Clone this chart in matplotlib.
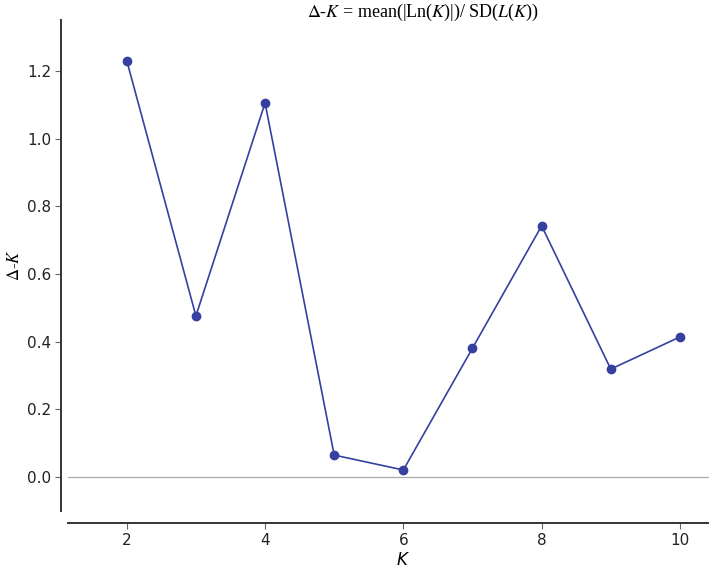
import matplotlib
matplotlib.use("Agg")
import matplotlib.pyplot as plt

k_values = [2, 3, 4, 5, 6, 7, 8, 9, 10]
delta_k = [1.23, 0.476, 1.105, 0.065, 0.021, 0.381, 0.742, 0.319, 0.414]
x_ticks = [2, 4, 6, 8, 10]
y_ticks = [0.0, 0.2, 0.4, 0.6, 0.8, 1.0, 1.2]

line_color = "#3540a0"
spine_color = "#333333"

fig = plt.figure(figsize=(7.09, 5.68), dpi=100)
ax = fig.add_axes([0.0959, 0.1004, 0.946, 0.8644])

ax.axhline(0, color="#aaaaaa", linewidth=0.9, zorder=1)
ax.plot(k_values, delta_k, color=line_color, linewidth=1.2,
        marker="o", markersize=6, zorder=3)

ax.set_xlim(1.15, 10.85)
ax.set_ylim(-0.1, 1.35)
ax.set_xticks(x_ticks)
ax.set_yticks(y_ticks)
ax.set_yticklabels([f"{v:.1f}" for v in y_ticks])

for side in ["top", "right"]:
    ax.spines[side].set_visible(False)
ax.spines["left"].set_position(("outward", 5))
ax.spines["bottom"].set_position(("outward", 9))
for side in ["left", "bottom"]:
    ax.spines[side].set_color(spine_color)
    ax.spines[side].set_linewidth(1.4)

ax.tick_params(axis="both", direction="out", length=4, width=0.8,
               color="#666666", labelsize=11, labelcolor="#222222", pad=3)

ax.set_xlabel("$K$", fontsize=12, labelpad=2)
ax.set_ylabel(r"$\Delta$-$K$", fontsize=12, family="Liberation Serif",
              math_fontfamily="stix", labelpad=3)

fig.text(423 / 709, 1 - 12 / 568,
         r"$\Delta$-$K$ = mean(|Ln($K$)|)/ SD($L$($K$))",
         ha="center", va="center", fontsize=13,
         family="Liberation Serif", math_fontfamily="stix")

fig.savefig("out.png", dpi=100)
